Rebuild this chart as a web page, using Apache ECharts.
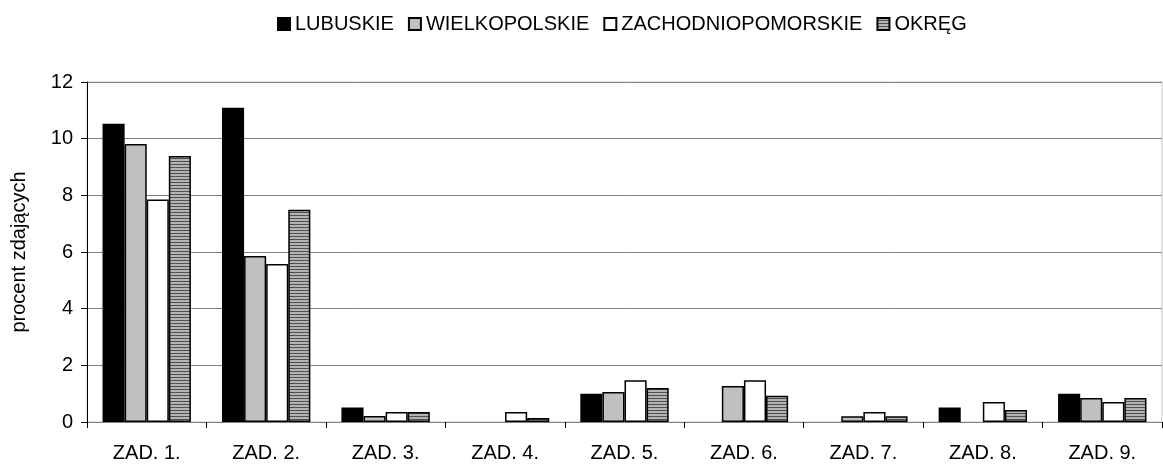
<!DOCTYPE html>
<html>
<head>
<meta charset="utf-8">
<script src="https://cdn.jsdelivr.net/npm/echarts@6/dist/echarts.min.js"></script>
<style>html,body{margin:0;padding:0;background:#fff}#c{width:1163px;height:466px}</style>
</head>
<body>
<div id="c"></div>
<script>
var categories = ['ZAD. 1.', 'ZAD. 2.', 'ZAD. 3.', 'ZAD. 4.', 'ZAD. 5.', 'ZAD. 6.', 'ZAD. 7.', 'ZAD. 8.', 'ZAD. 9.'];
var lubuskie = [10.53, 11.09, 0.51, 0, 1.0, 0, 0, 0.51, 1.0];
var wielkopolskie = [9.81, 5.86, 0.21, 0, 1.06, 1.27, 0.2, 0, 0.85];
var zachodniopomorskie = [7.85, 5.58, 0.35, 0.35, 1.47, 1.47, 0.35, 0.71, 0.71];
var okreg = [9.39, 7.49, 0.35, 0.14, 1.2, 0.93, 0.2, 0.42, 0.85];
var seriesNames = ['LUBUSKIE', 'WIELKOPOLSKIE', 'ZACHODNIOPOMORSKIE', 'OKRĘG'];
var yTicks = [0, 2, 4, 6, 8, 10, 12];

var pc = document.createElement('canvas');
pc.width = 4; pc.height = 3;
var ctx = pc.getContext('2d');
ctx.fillStyle = '#b4b4b4'; ctx.fillRect(0, 0, 4, 3);
ctx.fillStyle = '#505050'; ctx.fillRect(0, 2, 4, 1);
var stripe = { image: pc, repeat: 'repeat' };

var fills = ['#000000', '#c0c0c0', '#ffffff', stripe];
var datas = [lubuskie, wielkopolskie, zachodniopomorskie, okreg];
var FONT = 'Liberation Sans, Arial, sans-serif';

var chart = echarts.init(document.getElementById('c'), null, { renderer: 'canvas' });
chart.setOption({
  animation: false,
  backgroundColor: '#fff',
  legend: {
    top: 9,
    left: 272,
    icon: 'rect',
    itemWidth: 12,
    itemHeight: 12,
    itemGap: 14,
    selectedMode: false,
    textStyle: { fontFamily: FONT, fontSize: 20, color: '#000', padding: [0, 0, 6, 0] },
    data: seriesNames
  },
  grid: {
    left: 87, right: 1, top: 82, bottom: 44,
    show: true, borderColor: '#c8c8c8', borderWidth: 1
  },
  xAxis: {
    type: 'category',
    data: categories,
    axisLine: { lineStyle: { color: '#808080', width: 1 } },
    axisTick: { show: true, length: 6, lineStyle: { color: '#000' } },
    axisLabel: { fontFamily: FONT, fontSize: 20, color: '#000', margin: 21 }
  },
  yAxis: {
    type: 'value',
    min: yTicks[0], max: yTicks[yTicks.length - 1], interval: 2,
    name: 'procent zdających',
    nameLocation: 'middle',
    nameGap: 58,
    nameTextStyle: { fontFamily: FONT, fontSize: 20, color: '#000' },
    axisLine: { show: true, lineStyle: { color: '#000', width: 1 } },
    axisTick: { show: true, length: 6, lineStyle: { color: '#000' } },
    axisLabel: { fontFamily: FONT, fontSize: 20, color: '#000', margin: 14 },
    splitLine: { show: true, lineStyle: { color: '#808080', width: 1 } }
  },
  series: datas.map(function (d, i) {
    return {
      name: seriesNames[i],
      type: 'bar',
      data: d.map(function (v) {
        return v === 0 ? { value: v, itemStyle: { borderWidth: 0 } } : v;
      }),
      barGap: '0%',
      barCategoryGap: '26%',
      itemStyle: { color: fills[i], borderColor: '#000', borderWidth: 1.5 }
    };
  })
});
</script>
</body>
</html>
